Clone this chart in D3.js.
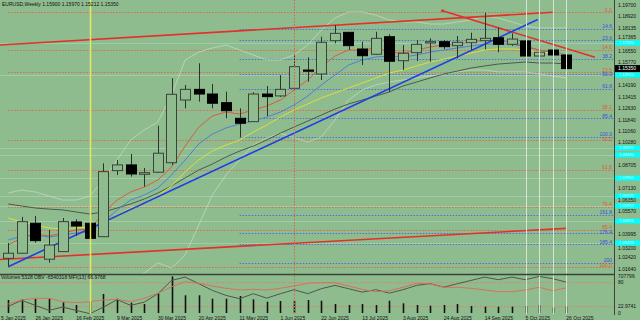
<!DOCTYPE html>
<html>
<head>
<meta charset="utf-8">
<script src="https://cdn.jsdelivr.net/npm/d3@7"></script>
<style>
  body { margin: 0; background: #8fbc8f; }
  svg { display: block; font-family: "Liberation Sans", Arial, sans-serif; }
</style>
</head>
<body>
<script>
// weekly EURUSD candles, week of 12 Jan 2025 .. week of 26 Oct 2025
const opens  = [1.0237,1.0272,1.0477,1.0231,1.0283,1.0486,1.0477,1.0385,1.0837,1.0876,1.0812,1.0826,1.0891,1.1320,1.1393,1.1361,1.1302,1.1195,1.1172,1.1361,1.1348,1.1400,1.1525,1.1498,1.1726,1.1783,1.1669,1.1633,1.1753,1.1589,1.1644,1.1710,1.1719,1.1692,1.1712,1.1726,1.1746,1.1701,1.1724,1.1621,1.1662,1.1628]
const highs  = [1.0342,1.0520,1.0527,1.0431,1.0513,1.0504,1.0518,1.0887,1.0910,1.0951,1.0855,1.1144,1.1469,1.1423,1.1571,1.1430,1.1377,1.1263,1.1373,1.1416,1.1491,1.1635,1.1612,1.1753,1.1833,1.1786,1.1719,1.1787,1.1770,1.1696,1.1731,1.1742,1.1731,1.1758,1.1781,1.1917,1.1815,1.1776,1.1728,1.1719,1.1685,1.1662]
const lows   = [1.0185,1.0267,1.0344,1.0207,1.0281,1.0390,1.0351,1.0383,1.0807,1.0796,1.0727,1.0821,1.0876,1.1263,1.1309,1.1263,1.1195,1.1065,1.1170,1.1211,1.1341,1.1393,1.1445,1.1457,1.1708,1.1662,1.1560,1.1628,1.1375,1.1525,1.1587,1.1582,1.1669,1.1605,1.1662,1.1667,1.1647,1.1690,1.1541,1.1553,1.1575,1.1521]
const closes = [1.0272,1.0488,1.0358,1.0328,1.0488,1.0458,1.0374,1.0830,1.0876,1.0814,1.0823,1.0956,1.1359,1.1393,1.1361,1.1298,1.1247,1.1161,1.1361,1.1343,1.1393,1.1548,1.1517,1.1715,1.1776,1.1692,1.1623,1.1742,1.1585,1.1640,1.1701,1.1719,1.1685,1.1715,1.1735,1.1742,1.1701,1.1737,1.1621,1.1647,1.1628,1.1535]

// moving averages and bands
const maRed    = [1.0328,1.0376,1.0404,1.0390,1.0410,1.0431,1.0438,1.0547,1.0636,1.0691,1.0725,1.0773,1.0862,1.1005,1.1135,1.1211,1.1238,1.1224,1.1252,1.1279,1.1320,1.1388,1.1457,1.1546,1.1621,1.1662,1.1662,1.1676,1.1648,1.1642,1.1662,1.1683,1.1696,1.1703,1.1717,1.1730,1.1724,1.1717,1.1689,1.1662,1.1648,1.1607]
const maBlue   = [1.0362,1.0390,1.0397,1.0383,1.0397,1.0410,1.0417,1.0486,1.0568,1.0636,1.0670,1.0718,1.0807,1.0910,1.1019,1.1087,1.1129,1.1156,1.1176,1.1204,1.1238,1.1286,1.1347,1.1423,1.1491,1.1559,1.1594,1.1614,1.1621,1.1614,1.1628,1.1648,1.1662,1.1676,1.1689,1.1703,1.1703,1.1703,1.1683,1.1662,1.1648,1.1628]
const maYellow = [1.0513,1.0486,1.0465,1.0445,1.0438,1.0445,1.0451,1.0486,1.0533,1.0581,1.0616,1.0663,1.0732,1.0828,1.0910,1.0971,1.1012,1.1046,1.1101,1.1149,1.1204,1.1252,1.1293,1.1334,1.1368,1.1402,1.1436,1.1471,1.1505,1.1525,1.1553,1.1580,1.1600,1.1621,1.1642,1.1662,1.1669,1.1669,1.1662,1.1648,1.1642,1.1628]
const maGray   = [1.0609,1.0595,1.0581,1.0574,1.0568,1.0554,1.0540,1.0554,1.0581,1.0609,1.0643,1.0684,1.0732,1.0787,1.0841,1.0882,1.0930,1.0971,1.1005,1.1047,1.1094,1.1135,1.1176,1.1217,1.1258,1.1293,1.1320,1.1347,1.1375,1.1416,1.1443,1.1471,1.1498,1.1518,1.1539,1.1553,1.1566,1.1573,1.1580,1.1573,1.1573,1.1566]
const bandUp   = [1.0684,1.0704,1.0691,1.0663,1.0636,1.0636,1.0663,1.0773,1.0910,1.1047,1.1115,1.1170,1.1354,1.1594,1.1648,1.1676,1.1696,1.1662,1.1628,1.1594,1.1594,1.1628,1.1696,1.1799,1.1881,1.1922,1.1922,1.1901,1.1867,1.1854,1.1854,1.1840,1.1840,1.1854,1.1867,1.1895,1.1881,1.1854,1.1826,1.1813,1.1813,1.1813]
const bandLow  = [1.0020,1.0007,1.0020,1.0034,1.0048,1.0048,1.0034,1.0020,1.0055,1.0089,1.0137,1.0205,1.0171,1.0260,1.0465,1.0670,1.0807,1.0910,1.1012,1.1060,1.1094,1.1060,1.1033,1.1067,1.1183,1.1320,1.1388,1.1423,1.1443,1.1457,1.1471,1.1484,1.1498,1.1512,1.1525,1.1525,1.1512,1.1512,1.1512,1.1498,1.1484,1.1471]

// lower panel
const volumes = [249000,262000,268000,281000,205000,153000,216000,363000,274000,197000,172000,377000,700000,339000,339000,274000,274000,325000,262000,216000,230000,235000,249000,235000,172000,153000,172000,153000,235000,185000,153000,140000,153000,172000,134000,121000,121000,121000,134000,153000,101000,121000]
const mfi     = [26.8,36.8,41,41,32.5,30,32.5,36.8,38.5,32.5,41,53.5,70,82.5,78.5,71.8,66,61.8,63.5,61.8,66,71.8,78.5,80,80,71.8,63.5,57.5,60,68.5,78.5,76.8,68.5,68.5,66,61.8,57.5,57.5,61.8,68.5,60,67]
const obvM    = [-8.97,-8.37,-8.87,-9.37,-9.04,-9.37,-9.70,-9.04,-8.30,-8.87,-8.54,-7.70,-6.37,-6.04,-6.70,-7.37,-7.87,-8.20,-7.70,-8.14,-7.70,-7.30,-7.70,-7.20,-6.87,-7.20,-7.54,-7.30,-7.64,-7.30,-6.87,-6.70,-7.04,-6.70,-6.37,-6.04,-6.30,-6.04,-6.30,-5.97,-6.20,-6.54]

// axis text
const priceTicks = ["1.19700","1.18920","1.18135","1.17365","1.16550","1.15770","1.14190","1.13415","1.12630","1.11840","1.11060","1.10280","1.08705","1.07130","1.06350","1.05570","1.03995","1.03200","1.02420","1.01640"]
const dateTickWeeks = [-1,2,5,8,11,14,17,20,23,26,29,32,35,38,41]
const dateTickLabels = ["5 Jan 2025","26 Jan 2025","16 Feb 2025","9 Mar 2025","30 Mar 2025","20 Apr 2025","11 May 2025","1 Jun 2025","22 Jun 2025","13 Jul 2025","3 Aug 2025","24 Aug 2025","14 Sep 2025","5 Oct 2025","26 Oct 2025"]

// fibonacci sets
const fibRedLevels = [0,14.6,23.6,38.2,50,61.8,76.4,85.4,100]
const fibRedRange = [1.1919, 1.0180]
const fibBlueLevels = [14.6,23.6,38.2,50,61.8,85.4,100,161.8,176.4,185.4,200]
const fibBlueLabels = ["14.6","23.6","38.2","50.0","61.8","85.4","100.0","161.8","176.4","185.4","200"]
const fibBlueRange = [1.1931, 1.1069]

// horizontal levels with cyan price tags
const cyanLevels = [1.1710,1.1491,1.0992,1.0944,1.0786,1.0663,1.0595,1.0492,1.0342]

// trend lines: [week, price]
const trendLines = [
  {a: [-0.6, 1.1696], b: [40, 1.1920], color: "#e3302a"},
  {a: [-0.6, 1.0229], b: [41, 1.0442], color: "#e3302a"},
  {a: [31.9, 1.1931], b: [43.1, 1.1612], color: "#e3302a"},
  {a: [0, 1.0180], b: [38.9, 1.1871], color: "#1f3fe6"}
]

const W = 640, H = 320
const plotW = 614, mainH = 274
const volTop = 276, volBottom = 313

const svg = d3.select("body").append("svg")
  .attr("width", W).attr("height", H)
svg.append("rect").attr("width", W).attr("height", H).attr("fill", "#8fbc8f")

const x = d3.scaleLinear().domain([-0.6, 44.5]).range([0, plotW])
const y = d3.scaleLinear().domain([1.01298, 1.20042]).range([mainH, 0])
const yVol = d3.scaleLinear().domain([0, 707796]).range([volBottom, volTop])
const yMfi = d3.scaleLinear().domain([0, 100]).range([314.7, 274.7])
const yObv = d3.scaleLinear().domain([-10, -6]).range([316.7, 276.7])

const step = x(1) - x(0)
const bodyW = step * 0.75
const fibRedPrice = d => fibRedRange[0] - (fibRedRange[0] - fibRedRange[1]) * d / 100
const fibBluePrice = d => fibBlueRange[0] - (fibBlueRange[0] - fibBlueRange[1]) * d / 100

const defs = svg.append("defs")
defs.append("clipPath").attr("id", "clipMain")
  .append("rect").attr("width", plotW).attr("height", mainH)
defs.append("clipPath").attr("id", "clipLow")
  .append("rect").attr("y", mainH + 1).attr("width", plotW).attr("height", 40)

const main = svg.append("g").attr("clip-path", "url(#clipMain)")
const low = svg.append("g").attr("clip-path", "url(#clipLow)")

// faint level lines
main.selectAll(".lvl").data(cyanLevels).enter().append("line")
  .attr("x1", 0).attr("x2", plotW)
  .attr("y1", d => Math.round(y(d)) + 0.5).attr("y2", d => Math.round(y(d)) + 0.5)
  .attr("stroke", "#a3d6ad").attr("stroke-width", 1).attr("opacity", 0.7)

// fib lines
main.selectAll(".fibr").data(fibRedLevels).enter().append("line")
  .attr("x1", x(0)).attr("x2", plotW)
  .attr("y1", d => Math.round(y(fibRedPrice(d))) + 0.5)
  .attr("y2", d => Math.round(y(fibRedPrice(d))) + 0.5)
  .attr("stroke", "#e0684e").attr("stroke-width", 1).attr("stroke-dasharray", "1.5,1.5")
main.selectAll(".fibb").data(fibBlueLevels).enter().append("line")
  .attr("x1", x(17)).attr("x2", plotW)
  .attr("y1", d => Math.round(y(fibBluePrice(d))) + 0.5)
  .attr("y2", d => Math.round(y(fibBluePrice(d))) + 0.5)
  .attr("stroke", "#4f6fe0").attr("stroke-width", 1).attr("stroke-dasharray", "1.5,1.5")

// vertical markers, through both panels
const vlines = [
  {w: 6, color: "#e6e85a", width: 1.5, dash: null},
  {w: 21, color: "#e0604a", width: 1, dash: "1.5,1.5"},
  {w: 38, color: "#d6e4d2", width: 1, dash: null},
  {w: 39, color: "#d6e4d2", width: 1, dash: null},
  {w: 40, color: "#d6e4d2", width: 1, dash: null},
  {w: 41, color: "#d6e4d2", width: 1, dash: null}
]
svg.selectAll(".vl").data(vlines).enter().append("line")
  .attr("x1", d => Math.round(x(d.w)) + 0.5).attr("x2", d => Math.round(x(d.w)) + 0.5)
  .attr("y1", 0).attr("y2", volBottom + 1)
  .attr("stroke", d => d.color).attr("stroke-width", d => d.width)
  .attr("stroke-dasharray", d => d.dash)

// moving averages
const line = d3.line().x((d, i) => x(i)).y(d => y(d))
const mas = [
  {v: bandUp, color: "#d2e2ca", w: 0.8, o: 0.75},
  {v: bandLow, color: "#d2e2ca", w: 0.8, o: 0.75},
  {v: maGray, color: "#4d5a4b", w: 1, o: 1},
  {v: maYellow, color: "#dede3c", w: 1, o: 1},
  {v: maBlue, color: "#4f7fd6", w: 1, o: 1},
  {v: maRed, color: "#db5a44", w: 1, o: 1}
]
main.selectAll(".ma").data(mas).enter().append("path")
  .attr("d", d => line(d.v))
  .attr("fill", "none").attr("stroke", d => d.color).attr("stroke-width", d => d.w)
  .attr("opacity", d => d.o)

// trend lines
main.selectAll(".tl").data(trendLines).enter().append("line")
  .attr("x1", d => x(d.a[0])).attr("y1", d => y(d.a[1]))
  .attr("x2", d => x(d.b[0])).attr("y2", d => y(d.b[1]))
  .attr("stroke", d => d.color).attr("stroke-width", 1.6)
main.append("circle")
  .attr("cx", x(trendLines[2].a[0])).attr("cy", y(trendLines[2].a[1]))
  .attr("r", 1.5).attr("fill", "#e3302a")

// candles
const candles = opens.map((o, i) => ({i: i, o: o, h: highs[i], l: lows[i], c: closes[i]}))
const cg = main.append("g")
cg.selectAll(".wick").data(candles).enter().append("line")
  .attr("x1", d => Math.round(x(d.i)) + 0.5).attr("x2", d => Math.round(x(d.i)) + 0.5)
  .attr("y1", d => y(d.h)).attr("y2", d => y(d.l))
  .attr("stroke", "#2a332a").attr("stroke-width", 1)
cg.selectAll(".body").data(candles).enter().append("rect")
  .attr("x", d => Math.round(x(d.i) - bodyW / 2) + 0.5)
  .attr("y", d => y(Math.max(d.o, d.c)))
  .attr("width", Math.round(bodyW))
  .attr("height", d => Math.max(1, Math.abs(y(d.o) - y(d.c))))
  .attr("fill", d => d.c >= d.o ? "#8fbc8f" : "#000")
  .attr("stroke", d => d.c >= d.o ? "#3a423a" : "#000")
  .attr("stroke-width", 1)

// fib labels, nudged apart where the two sets collide
const fibText = fibRedLevels.map(d => ({t: d.toFixed(1), y: y(fibRedPrice(d)) - 0.8, c: "#e0552f"}))
  .concat(fibBlueLevels.map((d, i) => ({t: fibBlueLabels[i], y: y(fibBluePrice(d)) - 0.8, c: "#3550d8"})))
  .sort((a, b) => a.y - b.y)
for (let k = 1; k < fibText.length; k++) {
  if (fibText[k].y - fibText[k - 1].y < 4.8) fibText[k].y = fibText[k - 1].y + 4.8
}
svg.selectAll(".fibl").data(fibText).enter().append("text")
  .attr("x", 612).attr("y", d => d.y)
  .attr("text-anchor", "end").style("font-size", "5px").attr("fill", d => d.c)
  .text(d => d.t)

// panel separator and right axis
svg.append("line").attr("x1", 0).attr("x2", plotW).attr("y1", mainH + 0.5).attr("y2", mainH + 0.5)
  .attr("stroke", "#3b423b").attr("stroke-width", 1.5)
svg.append("line").attr("x1", plotW + 0.5).attr("x2", plotW + 0.5).attr("y1", 0).attr("y2", 315)
  .attr("stroke", "#3b423b").attr("stroke-width", 1)

const axis = svg.append("g")
const last = closes[closes.length - 1]

// cyan price tags
const tags = axis.selectAll(".tag").data(cyanLevels).enter().append("g")
tags.append("rect").attr("x", 615).attr("y", d => y(d) - 2.5).attr("width", 25).attr("height", 5)
  .attr("fill", "#00ffff")
tags.append("text").attr("x", 619).attr("y", d => y(d) + 1.4)
  .style("font-size", "4px").attr("fill", "#d8ffff").text(d => d.toFixed(5))

// price ticks kept clear of the tags
const tagY = cyanLevels.concat([last]).map(d => y(d))
const tickPos = priceTicks.map(t => {
  let ty = y(+t)
  tagY.forEach(g => {
    if (Math.abs(ty - g) < 5.6) ty = g + (ty >= g ? 5.6 : -5.6)
  })
  return {t: t, y: ty}
})
axis.selectAll(".pt").data(tickPos).enter().append("text")
  .attr("x", 618).attr("y", d => d.y + 1.7)
  .style("font-size", "5px").attr("fill", "#111")
  .text(d => d.t)

// current price tag
axis.append("rect").attr("x", 615).attr("y", y(last) - 3.5).attr("width", 25).attr("height", 7).attr("fill", "#000")
axis.append("text").attr("x", 618).attr("y", y(last) + 1.7)
  .style("font-size", "5px").attr("fill", "#fff").text(last.toFixed(5))

// title
svg.append("text").attr("x", 2).attr("y", 6)
  .style("font-size", "5px").attr("fill", "#111")
  .text("EURUSD,Weekly  1.15900 1.15970 1.15212 1.15350")

// lower panel: volume, OBV, MFI
low.selectAll(".mfil").data([80, 20]).enter().append("line")
  .attr("x1", 0).attr("x2", plotW).attr("y1", d => yMfi(d)).attr("y2", d => yMfi(d))
  .attr("stroke", "#e07a68").attr("stroke-dasharray", "1.5,1.5")
low.selectAll(".vol").data(volumes).enter().append("line")
  .attr("x1", (d, i) => Math.round(x(i)) + 0.5).attr("x2", (d, i) => Math.round(x(i)) + 0.5)
  .attr("y1", yVol(0)).attr("y2", d => yVol(d))
  .attr("stroke", "#111").attr("stroke-width", 1.6)
low.append("path").attr("d", d3.line().x((d, i) => x(i)).y(d => yObv(d))(obvM))
  .attr("fill", "none").attr("stroke", "#4e574e").attr("stroke-width", 1)
low.append("path").attr("d", d3.line().x((d, i) => x(i)).y(d => yMfi(d))(mfi))
  .attr("fill", "none").attr("stroke", "#d9705a").attr("stroke-width", 1)

svg.append("text").attr("x", 1).attr("y", 279)
  .style("font-size", "5px").attr("fill", "#111")
  .text("Volumes 5328  OBV -6540318  MFI(13) 66.9768")

const lowLabels = [{t: "707796", v: 707796}, {t: "0", v: 0}]
axis.selectAll(".ll").data(lowLabels).enter().append("text")
  .attr("x", 618).attr("y", d => yVol(d.v) + 1.7)
  .style("font-size", "5px").attr("fill", "#111").text(d => d.t)
axis.selectAll(".ml").data([{t: "80", v: 80}, {t: "22.9741", v: 20}]).enter().append("text")
  .attr("x", 618).attr("y", d => yMfi(d.v) + 1.7)
  .style("font-size", "5px").attr("fill", "#111").text(d => d.t)

// date axis
svg.selectAll(".dt").data(dateTickWeeks).enter().append("text")
  .attr("x", d => Math.max(1, x(d))).attr("y", 319.5)
  .style("font-size", "5px").attr("fill", "#111")
  .text((d, i) => dateTickLabels[i])
</script>
</body>
</html>
